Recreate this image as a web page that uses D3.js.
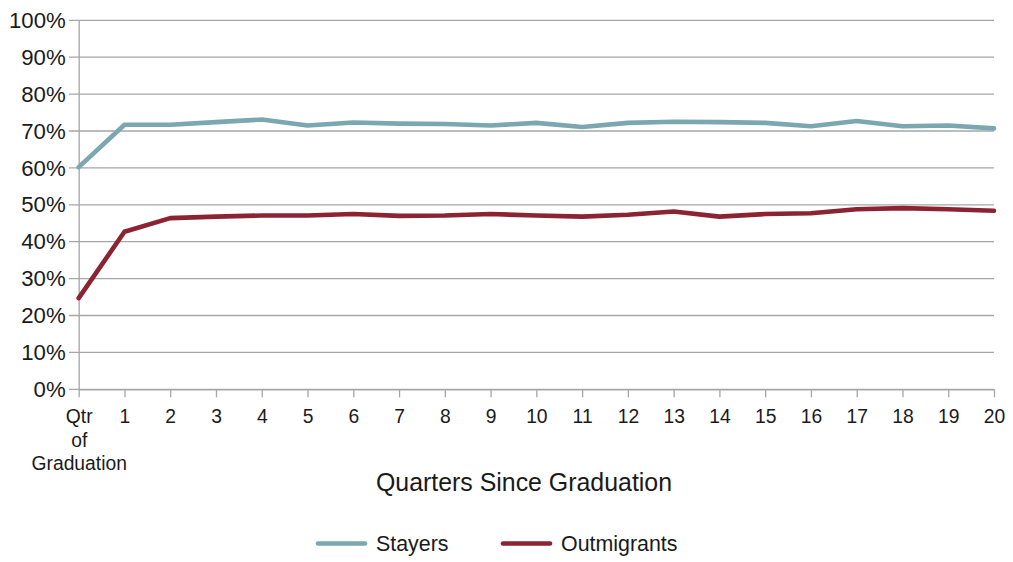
<!DOCTYPE html>
<html><head><meta charset="utf-8">
<script src="https://cdn.jsdelivr.net/npm/d3@7"></script>
<style>body{margin:0;background:#fff}svg{display:block}text{font-family:"Liberation Sans",Arial,sans-serif;fill:#1a1a1a}</style>
</head><body>
<svg id="c" width="1013" height="562"></svg>
<script>
const quarters = d3.range(0, 21);
const xTickLabels = ["Qtr of Graduation","1","2","3","4","5","6","7","8","9","10","11","12","13","14","15","16","17","18","19","20"];
const stayers = [60.2,71.7,71.7,72.4,73.1,71.5,72.3,72.0,71.9,71.5,72.2,71.1,72.2,72.5,72.4,72.2,71.3,72.7,71.3,71.5,70.7];
const outmigrants = [24.7,42.7,46.4,46.8,47.1,47.1,47.5,47.0,47.1,47.5,47.1,46.8,47.3,48.2,46.8,47.5,47.7,48.8,49.1,48.8,48.4];
const yTicks = [0,10,20,30,40,50,60,70,80,90,100];
const seriesNames = ["Stayers","Outmigrants"];
const colors = ["#7ba7b0","#8c2333"];

const svg = d3.select("#c");
const x = d3.scaleLinear().domain([0,20]).range([78.7,994]);
const y = d3.scaleLinear().domain([0,100]).range([389.3,20.3]);

// gridlines
svg.append("g").selectAll("line").data(yTicks).join("line")
  .attr("x1",69).attr("x2",994).attr("y1",d=>y(d)).attr("y2",d=>y(d))
  .attr("stroke","#a6a6a6").attr("stroke-width",1.3);

// y axis
const yAxis = svg.append("g").attr("transform",`translate(${x(0)},0)`)
  .call(d3.axisLeft(y).tickValues(yTicks).tickFormat(d=>d+"%").tickSize(0).tickPadding(13));
yAxis.select(".domain").attr("stroke","#a6a6a6").attr("stroke-width",1.3);
yAxis.selectAll("text").attr("font-size",22.2).attr("fill","#1a1a1a").attr("font-family","Liberation Sans, Arial, sans-serif");

// x axis
const xAxis = svg.append("g").attr("transform",`translate(0,${y(0)})`)
  .call(d3.axisBottom(x).tickValues(quarters).tickFormat(()=>"").tickSize(8).tickSizeOuter(0));
xAxis.select(".domain").attr("stroke","#a6a6a6").attr("stroke-width",1.3);
xAxis.selectAll(".tick line").attr("stroke","#a6a6a6").attr("stroke-width",1.3);
xAxis.selectAll(".tick").each(function(d){
  const t = d3.select(this).append("text").attr("text-anchor","middle")
    .attr("font-size",19.3).attr("fill","#1a1a1a").attr("font-family","Liberation Sans, Arial, sans-serif");
  const parts = d===0 ? ["Qtr","of","Graduation"] : [xTickLabels[d]];
  parts.forEach((p,i)=>t.append("tspan").attr("x",0).attr("y",34+i*23.5).text(p));
});

// lines
const line = d3.line().x((d,i)=>x(quarters[i])).y(d=>y(d));
[stayers,outmigrants].forEach((s,i)=>{
  svg.append("path").datum(s).attr("d",line).attr("fill","none")
    .attr("stroke",colors[i]).attr("stroke-width",4.6)
    .attr("stroke-linejoin","round").attr("stroke-linecap","round");
});

// axis title
svg.append("text").attr("x",524).attr("y",490.5).attr("text-anchor","middle")
  .attr("font-size",24.9).text("Quarters Since Graduation");

// legend
const legX = [318,503];
seriesNames.forEach((n,i)=>{
  const g = svg.append("g").attr("transform",`translate(${legX[i]},543.5)`);
  g.append("line").attr("x1",0).attr("x2",47).attr("stroke",colors[i]).attr("stroke-width",4.6).attr("stroke-linecap","round");
  g.append("text").attr("x",58).attr("y",7.6).attr("font-size",21.4).text(n);
});
</script>
</body></html>
